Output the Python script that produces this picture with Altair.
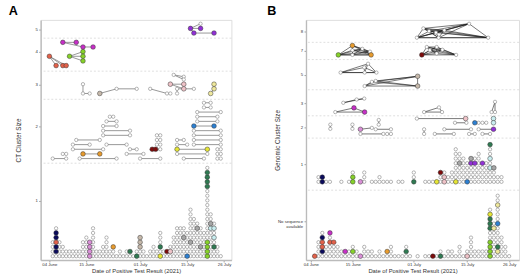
import json
import altair as alt
import pandas as pd

BASE = pd.Timestamp("2021-06-04")

COLOURS = {
    "N": "#0b0b5c", "T": "#e2614a", "L": "#86d12a", "Mg": "#c62fc6",
    "Or": "#d98fd6", "O": "#e79b2e", "M": "#7d0b0b", "Y": "#e5e535",
    "PY": "#efe89c", "LP": "#efc3c8", "DG": "#2f7a52", "B": "#2d80d2",
    "P": "#9130d6", "C": "#c9eef0", "G2": "#a6a6a6", "BG": "#c6b9ab",
}

# ---------------- Panel A : CT clusters ----------------
# singletons per day (day 0 = 04 June)
A_LOW_COUNTS = [0, 4, 7, 4, 3, 2, 2, 2, 2, 2, 4, 5, 4, 7, 2, 2, 3, 5, 2, 3, 1, 2, 1, 2, 2, 1,
                2, 5, 2, 1, 2, 3, 2, 6, 2, 2, 3, 5, 7, 7, 7, 6, 11, 9, 8, 7, 6, 20, 10, 8, 3, 1]
A_LOW_COLOURED = [
    (2, 1, "N"), (2, 2, "N"), (2, 3, "T"), (2, 4, "N"), (2, 5, "N"),
    (12, 0, "Or"), (12, 1, "Or"), (12, 2, "Or"), (12, 3, "Or"),
    (19, 2, "O"), (24, 1, "DG"), (26, 0, "DG"),
    (27, 2, "BG"), (27, 3, "BG"), (27, 4, "BG"),
    (33, 0, "Y"), (33, 2, "DG"), (35, 1, "M"), (36, 1, "LP"),
    (40, 4, "G2"), (42, 3, "G2"), (44, 6, "G2"), (45, 2, "G2"), (41, 0, "B"),
    (47, 0, "L"), (47, 1, "L"), (47, 2, "L"), (47, 3, "L"),
    (47, 15, "DG"), (47, 16, "DG"), (47, 17, "DG"), (47, 18, "DG"),
    (48, 6, "C"), (48, 7, "G2"), (49, 4, "C"), (49, 6, "C"), (49, 2, "DG"),
]
# size-2 clusters: row, day1, day2, colour1, colour2
A_PAIRS = [
    (21, 1, 5, "g", "g"), (21, 9, 20, "g", "g"), (21, 27, 33, "g", "g"), (21, 40, 46, "g", "g"), (21, 50, 51, "g", "g"),
    (22, 4, 5, "g", "g"), (22, 10, 15, "O", "O"), (22, 23, 28, "g", "g"), (22, 38, 47, "g", "g"), (22, 50, 51, "g", "g"),
    (23, 7, 16, "g", "g"), (23, 24, 26, "g", "g"), (23, 30.6, 31.6, "M", "M"), (23, 32, 33, "g", "g"),
    (23, 38, 47, "Y", "Y"), (23, 50, 51, "g", "g"),
    (24, 7, 12, "g", "g"), (24, 17, 23, "g", "g"), (24, 32, 33, "g", "g"), (24, 38, 41, "g", "g"), (24, 43, 51, "g", "g"),
    (25, 8, 15, "g", "g"), (25, 32, 33, "g", "g"), (25, 38, 40, "g", "g"), (25, 43, 51, "g", "g"),
    (26, 16, 24, "g", "g"), (26, 32, 33, "g", "g"), (26, 43, 51, "g", "g"),
    (27, 16, 24, "g", "g"), (27, 43, 51, "g", "g"),
    (28, 16, 20, "g", "g"), (28, 43, 49, "B", "B"),
    (29, 17, 20, "g", "g"), (29, 44, 50, "g", "g"),
    (30, 18, 19, "g", "g"), (30, 44, 50, "g", "g"),
    (31, 44, 51, "g", "g"), (32, 46, 48, "g", "g"), (33, 46, 48, "g", "g"),
]
# larger clusters: (day, row, colour, linked-to index)
A_TREES = [
    [(10, 37, "g", -1), (10, 35, "g", 0), (12, 35, "g", 1)],
    [(15, 35, "BG", -1), (20, 36, "g", 0), (26, 36, "g", 1)],
    [(30, 36, "g", -1), (35, 35, "g", 0), (36, 35, "g", 1)],
    [(36, 37, "LP", -1), (40, 37, "LP", 0), (40, 36, "LP", 0)],
    [(37, 39, "g", -1), (40, 38.6, "g", 0), (40, 38, "g", 0)],
    [(38, 35, "g", -1), (38, 36, "g", 0), (43, 36, "g", 1)],
    [(49, 37, "PY", -1), (49, 36, "PY", 0), (48, 35, "PY", 1)],
    [(0, 43, "T", -1), (2, 41, "T", 0), (4, 41, "T", 0), (5, 41, "T", 0)],
    [(6, 43, "L", -1), (10, 44, "L", 0), (10, 43, "L", 0), (10, 42, "L", 0)],
    [(4, 46, "Mg", -1), (8, 46, "Mg", 0), (10, 45, "Mg", 0), (13, 45, "Mg", 2)],
    [(42, 49, "P", -1), (45, 49, "P", 0), (45, 50, "g", 0), (43, 48, "P", 0), (49, 48, "P", 3)],
]
A_BANDS = [20, 33.75, 39.8, 46.9]
A_YTICKS = [11.9, 27.9, 36.9, 44.0, 48.75]
A_YLABELS = ["1", "2", "3", "4", "5"]

# ---------------- Panel B : genomic clusters ----------------
B_LOW_COUNTS = [0, 1, 4, 6, 3, 6, 4, 3, 2, 2, 2, 3, 2, 1, 3, 2, 2, 1, 2, 1, 2, 3, 1, 1, 1, 3, 1,
                0, 1, 0, 1, 1, 1, 1, 2, 1, 2, 2, 1, 3, 1, 2, 5, 2, 2, 2, 2, 11, 8, 14, 5, 3, 1]
B_LOW_COLOURED = [
    (1, 0, "T"), (3, 1, "N"), (3, 2, "T"), (3, 3, "T"), (3, 4, "N"),
    (5, 3, "T"), (6, 3, "T"), (5, 5, "Mg"), (9, 1, "Mg"), (11, 1, "L"), (13, 0, "Or"),
    (20, 1, "O"), (25, 1, "DG"), (32, 0, "M"), (34, 0, "DG"), (41, 0, "LP"),
    (47, 0, "L"), (47, 1, "L"), (47, 2, "L"), (47, 3, "L"),
    (47, 6, "DG"), (47, 7, "DG"), (47, 8, "DG"), (47, 9, "Y"),
    (48, 6, "PY"), (49, 1, "PY"), (49, 2, "DG"), (49, 7, "B"), (49, 11, "PY"),
]
B_MID_COUNTS = [0, 0, 2, 2, 1, 1, 0, 0, 1, 0, 1, 3, 0, 1, 3, 0, 1, 1, 2, 1, 1, 1, 0, 1, 1, 0,
                0, 3, 0, 0, 1, 1, 1, 1, 3, 3, 2, 3, 8, 7, 6, 5, 6, 6, 7, 5, 5, 9, 4, 2, 2]
B_MID_COLOURED = [
    (3, 16, "N"), (3, 17, "N"), (11, 16, "L"), (11, 17, "L"), (13, 16, "Or"),
    (27, 16, "DG"), (33, 16, "Y"), (34, 18, "M"), (35, 16, "LP"), (35, 17, "LP"),
    (38, 16, "Y"), (41, 16, "B"), (39, 20, "G2"), (42, 21, "G2"),
    (42, 20, "P"), (43, 20, "P"), (45, 20, "P"),
    (47, 19, "C"), (47, 21, "C"), (47, 24, "DG"), (48, 19, "G2"),
]
# size-2 clusters: day1, row1, day2, row2, colour1, colour2
B_PAIRS = [
    (5.1, 28.3, 5.1, 27.4, "g", "g"), (10.9, 28.3, 10.9, 27.4, "g", "g"), (17.8, 29.3, 17.8, 28.3, "g", "g"),
    (13, 27.3, 16, 27.6, "Or", "g"), (17, 27.3, 21, 27.3, "g", "g"), (13, 26.3, 19, 26.3, "g", "g"),
    (20, 26.3, 21, 26.3, "g", "g"), (29.7, 27.3, 29.7, 26.3, "g", "g"),
    (27.8, 29.6, 40.6, 29.6, "g", "LP"), (37.8, 28.7, 40.8, 28.7, "g", "g"),
    (43, 28.7, 44, 28.7, "B", "g"), (45, 28.7, 46, 28.7, "g", "g"),
    (47.9, 29.6, 47.9, 28.7, "C", "C"), (35, 27.3, 42, 27.3, "g", "g"), (44, 27.3, 47.9, 27.3, "g", "P"),
    (32.5, 26.3, 37.5, 26.3, "g", "g"), (41.5, 26.3, 43, 26.3, "g", "g"), (45, 26.3, 47, 26.3, "g", "g"),
]
# larger clusters (all members linked): day, row, colour
B_GROUPS = [
    [(6.4, 31, "g"), (11.3, 31.9, "Mg"), (14.1, 31, "Mg")],
    [(8.5, 33, "g"), (12, 33.7, "g"), (14, 33.9, "g")],
    [(29.7, 31, "g"), (33.6, 32, "g"), (34.4, 31, "g")],
    [(48.3, 33.2, "g"), (47.4, 31, "g"), (48.3, 31, "g")],
    [(7.8, 39.5, "g"), (15, 41.4, "g"), (17.2, 39.5, "g"), (14.1, 39.5, "g"), (14, 40.6, "g")],
    [(14.1, 36.6, "g"), (16, 37.5, "g"), (17, 37.7, "g"), (28, 38.7, "BG"), (28, 36.6, "BG")],
    [(7.2, 43.3, "L"), (10.9, 45.3, "O"), (15.8, 43.3, "O"), (10.9, 44.3, "g"),
     (10.9, 43.3, "g"), (13.5, 44.6, "g"), (15.5, 44.0, "g")],
    [(29.1, 43.3, "M"), (30.4, 45, "g"), (33, 45, "g"), (31.2, 44.3, "g"),
     (33, 43.6, "g"), (38.1, 43.3, "g"), (34.5, 44.4, "g")],
    [(27.8, 47, "g"), (29.5, 49, "g"), (41.5, 50, "g"), (46.5, 47, "g"),
     (33.5, 47, "g"), (31, 48.4, "g"), (32.8, 48.1, "g"), (35, 48.6, "g")],
]
B_BANDS = [14.2, 25.4, 30.2, 35.8, 42.3, 46]
B_YTICKS = [7.5, 19.8, 27.7, 32.9, 39.0, 44.2, 48.3]
B_YLABELS = ["No sequence\navailable", "1", "2", "3", "5", "7", "8"]

X_TICKS = [(6, 4), (6, 15), (7, 1), (7, 15), (7, 26)]


def to_date(days):
    return BASE + pd.to_timedelta(pd.Series(days, dtype=float), unit="D")


def stack(counts, coloured, base_row):
    cmap = {(d, r): c for d, r, c in coloured}
    out = []
    for d, n in enumerate(counts):
        for k in range(n):
            r = base_row + k
            out.append((d, r, cmap.pop((d, r), "g")))
    out += [(d, r, c) for (d, r), c in cmap.items()]
    return out


def frames(points, segs):
    p = pd.DataFrame(points, columns=["day", "row", "colour"])
    p["date"] = to_date(p["day"])
    s = pd.DataFrame(segs, columns=["day", "row", "day2", "row2"])
    s["date"] = to_date(s["day"])
    s["date2"] = to_date(s["day2"])
    return p, s


# panel A data
a_pts = stack(A_LOW_COUNTS, A_LOW_COLOURED, 0)
a_segs = []
for r, d1, d2, c1, c2 in A_PAIRS:
    a_pts += [(d1, r, c1), (d2, r, c2)]
    a_segs.append((d1, r, d2, r))
for cl in A_TREES:
    for d, r, c, par in cl:
        a_pts.append((d, r, c))
        if par >= 0:
            a_segs.append((cl[par][0], cl[par][1], d, r))

# panel B data
b_pts = stack(B_LOW_COUNTS, B_LOW_COLOURED, 0) + stack(B_MID_COUNTS, B_MID_COLOURED, 16)
b_segs = []
for d1, r1, d2, r2, c1, c2 in B_PAIRS:
    b_pts += [(d1, r1, c1), (d2, r2, c2)]
    b_segs.append((d1, r1, d2, r2))
for cl in B_GROUPS:
    for i, (d, r, c) in enumerate(cl):
        b_pts.append((d, r, c))
        for d2, r2, _ in cl[i + 1:]:
            b_segs.append((d, r, d2, r2))

A_P, A_S = frames(a_pts, a_segs)
B_P, B_S = frames(b_pts, b_segs)

FONT = "Liberation Sans"


def label_expr(ticks, labels):
    expr = "''"
    for t, lab in reversed(list(zip(ticks, labels))):
        parts = lab.split("\n")
        txt = json.dumps(parts) if len(parts) > 1 else json.dumps(lab)
        expr = f"abs(datum.value - {t}) < 0.01 ? {txt} : ({expr})"
    return expr


def dt(m, d, h=0, mi=0):
    return alt.DateTime(year=2021, month=m, date=d, hours=h, minutes=mi)


def panel(P, S, bands, yticks, ylabels, ytitle, letter, width, xdom, seg_colour, seg_w, ext, tdx):
    xs = alt.Scale(domain=xdom)
    ys = alt.Scale(domain=[-0.83, 50.83], zero=False, nice=False)
    xaxis = alt.Axis(values=[dt(m, d) for m, d in X_TICKS], format="%d %B",
                     title="Date of Positive Test Result (2021)", titleFontSize=6,
                     titleFontWeight="normal", titleColor="#333", titlePadding=1,
                     labelFontSize=4.4, labelColor="#333", labelPadding=1, tickSize=2,
                     tickColor="#999", domainColor="#bbb", domainWidth=1.4, grid=False,
                     labelFlush=False)
    yaxis = alt.Axis(values=yticks, labelExpr=label_expr(yticks, ylabels), title=ytitle,
                     titleFontSize=6.5, titleFontWeight="normal", titleColor="#333",
                     titlePadding=2, labelFontSize=4.4, labelColor="#333", labelPadding=1.5,
                     tickSize=2, tickColor="#999", domainColor="#bbb", domainWidth=1.4,
                     grid=False, minExtent=ext, maxExtent=ext, labelLineHeight=5)
    X = alt.X("date:T", scale=xs, axis=xaxis)
    Y = alt.Y("row:Q", scale=ys, axis=yaxis)

    band_df = pd.DataFrame({"row": bands})
    dashes = alt.Chart(band_df).mark_rule(color="#cfcfcf", strokeDash=[2, 2], strokeWidth=0.7).encode(
        y=alt.Y("row:Q", scale=ys, axis=yaxis))
    segs = alt.Chart(S).mark_rule(color=seg_colour, strokeWidth=seg_w).encode(
        x=X, x2="date2:T", y=Y, y2="row2:Q")
    grey = alt.Chart(P).transform_filter("datum.colour == 'g'").mark_circle(
        fill="white", stroke="#777", strokeWidth=0.55, size=12, opacity=1).encode(x=X, y=Y)
    col = alt.Chart(P).transform_filter("datum.colour != 'g'").mark_circle(
        stroke="#333", strokeWidth=0.5, size=23, opacity=1).encode(
        x=X, y=Y,
        fill=alt.Fill("colour:N", scale=alt.Scale(domain=list(COLOURS), range=list(COLOURS.values())),
                      legend=None))
    return alt.layer(dashes, segs, grey, col).properties(
        width=width, height=248,
        title=alt.TitleParams(letter, anchor="start", frame="bounds", fontSize=13,
                              fontWeight="bold", font=FONT, offset=2, dx=tdx, color="#000"))


pa = panel(A_P, A_S, A_BANDS, A_YTICKS, A_YLABELS, "CT Cluster Size", "A", 197,
           [dt(6, 1, 9, 50), dt(7, 28, 4, 20)], "#8a8a8a", 0.9, 18, -7)
pb = panel(B_P, B_S, B_BANDS, B_YTICKS, B_YLABELS, "Genomic Cluster Size", "B", 220,
           [dt(6, 2, 17, 20), dt(7, 28, 14, 20)], "#1a1a1a", 0.6, 24, -8)

chart = alt.hconcat(pa, pb, spacing=35).properties(
    padding={"left": 8, "top": 0, "right": 0, "bottom": 0}
).configure_view(stroke=None).configure(font=FONT)

chart.save("out.html", embed_options={"renderer": "svg", "actions": False})
